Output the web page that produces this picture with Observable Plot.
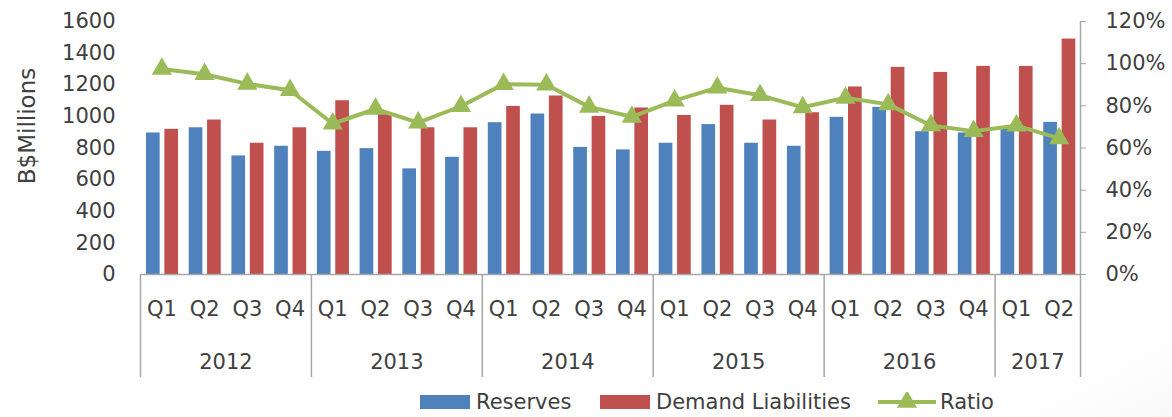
<!DOCTYPE html>
<html>
<head>
<meta charset="utf-8">
<script src="https://cdn.jsdelivr.net/npm/d3@7"></script>
<script src="https://cdn.jsdelivr.net/npm/@observablehq/plot@0.6"></script>
<style>
  html, body { margin: 0; padding: 0; }
  body {
    width: 1172px; height: 417px; overflow: hidden;
    background: radial-gradient(ellipse 120% 150% at 35% 30%, #ffffff 62%, #e4e4e4 100%);
    font-family: "DejaVu Sans", sans-serif; color: #404040;
  }
  #chart svg { display: block; background: transparent; }
  #legend { position: relative; height: 31px; }
  .lg { position: absolute; top: 0; height: 31px; display: flex; align-items: center; font-size: 21px; color: #404040; }
  .sw { display: inline-block; width: 50px; height: 14px; margin-right: 6px; }
</style>
</head>
<body>
<div id="chart"></div>
<div id="legend"></div>
<script>
const years = ["2012", "2013", "2014", "2015", "2016", "2017"];
const quarterYears = ["2012","2012","2012","2012","2013","2013","2013","2013","2014","2014","2014","2014","2015","2015","2015","2015","2016","2016","2016","2016","2017","2017"];
const quarterLabels = ["Q1","Q2","Q3","Q4","Q1","Q2","Q3","Q4","Q1","Q2","Q3","Q4","Q1","Q2","Q3","Q4","Q1","Q2","Q3","Q4","Q1","Q2"];
const reserves = [895, 928, 750, 811, 779, 796, 668, 741, 960, 1015, 804, 788, 830, 948, 830, 811, 994, 1057, 903, 895, 929, 962];
const demandLiabilities = [918, 977, 830, 928, 1099, 1014, 928, 928, 1063, 1129, 1000, 1053, 1006, 1070, 977, 1023, 1186, 1310, 1278, 1316, 1316, 1489];
const ratioPct = [97.5, 95, 90.4, 87.4, 71.5, 78.5, 72, 79.8, 90.3, 90, 79.5, 74.8, 82.5, 88.6, 85, 79.3, 83.8, 80.7, 70.7, 68, 70.6, 64.6];
const leftTicks = [0, 200, 400, 600, 800, 1000, 1200, 1400, 1600];
const rightTicks = [0, 20, 40, 60, 80, 100, 120];

const BLUE = "#4F81BD", RED = "#C0504D", GREEN = "#9BBB59", AXIS = "#a6a6a6", TEXT = "#404040";
const LEFT_MAX = 1600, RIGHT_MAX = 120;
const toLeft = p => p * LEFT_MAX / RIGHT_MAX;

const data = quarterLabels.map((q, i) => ({
  i, q, year: quarterYears[i], reserves: reserves[i], demand: demandLiabilities[i], ratio: ratioPct[i]
}));
const groups = years.map(y => {
  const idx = data.filter(d => d.year === y).map(d => d.i);
  return {year: y, start: d3.min(idx) - 0.5, end: d3.max(idx) + 0.5, mid: d3.mean(idx)};
});
const bounds = [groups[0].start, ...groups.map(g => g.end)];

const H = 386, marginTop = 21, marginBottom = H - 274;
const pxToUnits = LEFT_MAX / (H - marginBottom - marginTop);

const chart = Plot.plot({
  width: 1172,
  height: H,
  marginLeft: 140,
  marginRight: 92,
  marginTop,
  marginBottom,
  style: {fontFamily: "DejaVu Sans, sans-serif", fontSize: "21px", color: TEXT, background: "transparent", overflow: "visible"},
  x: {domain: [-0.5, quarterLabels.length - 0.5], axis: null},
  y: {domain: [0, LEFT_MAX], axis: null},
  marks: [
    Plot.axisY(leftTicks, {anchor: "left", tickSize: 0, tickPadding: 25, fontSize: 21, fill: TEXT, tickFormat: d => String(d)}),
    Plot.axisY(rightTicks.map(toLeft), {anchor: "right", tickSize: 5, tickPadding: 20, stroke: AXIS, fontSize: 21, fill: TEXT,
      tickFormat: v => Math.round(v * RIGHT_MAX / LEFT_MAX) + "%"}),
    Plot.ruleX([quarterLabels.length - 0.5], {y1: 0, y2: LEFT_MAX, stroke: AXIS, strokeWidth: 1.5}),
    Plot.text(["B$Millions"], {frameAnchor: "left", textAnchor: "middle", dx: -113, dy: -22, rotate: -90, fontSize: 23, fill: TEXT}),
    Plot.rectY(data, {x1: d => d.i - 0.36, x2: d => d.i - 0.04, y: "reserves", fill: BLUE}),
    Plot.rectY(data, {x1: d => d.i + 0.07, x2: d => d.i + 0.39, y: "demand", fill: RED}),
    Plot.ruleY([0], {stroke: AXIS, strokeWidth: 1.5}),
    Plot.ruleX(bounds, {x: d => d, y1: 0, y2: -103 * pxToUnits, stroke: AXIS, strokeWidth: 1.5}),
    Plot.text(data, {x: "i", y: 0, text: "q", dy: 35, fontSize: 21, fill: TEXT}),
    Plot.text(groups, {x: "mid", y: 0, text: "year", dy: 88, fontSize: 21, fill: TEXT}),
    Plot.line(data, {x: "i", y: d => toLeft(d.ratio), stroke: GREEN, strokeWidth: 4}),
    Plot.dot(data, {x: "i", y: d => toLeft(d.ratio), symbol: "triangle", r: 7.5, fill: GREEN, stroke: "none"})
  ]
});
document.getElementById("chart").appendChild(chart);

const legendItems = [
  {label: "Reserves", color: BLUE, left: 420, type: "box"},
  {label: "Demand Liabilities", color: RED, left: 600, type: "box"},
  {label: "Ratio", color: GREEN, left: 878, type: "line"}
];
const lg = document.getElementById("legend");
legendItems.forEach(it => {
  const el = document.createElement("div");
  el.className = "lg";
  el.style.left = it.left + "px";
  if (it.type === "box") {
    el.innerHTML = `<span class="sw" style="background:${it.color}"></span><span>${it.label}</span>`;
  } else {
    el.innerHTML = `<svg width="58" height="20" style="margin-right:4px"><line x1="0" y1="10" x2="58" y2="10" stroke="${it.color}" stroke-width="4"/><path d="${d3.symbol(d3.symbolTriangle, Math.PI * 7.5 * 7.5)()}" transform="translate(29,10)" fill="${it.color}"/></svg><span>${it.label}</span>`;
  }
  lg.appendChild(el);
});
</script>
</body>
</html>
